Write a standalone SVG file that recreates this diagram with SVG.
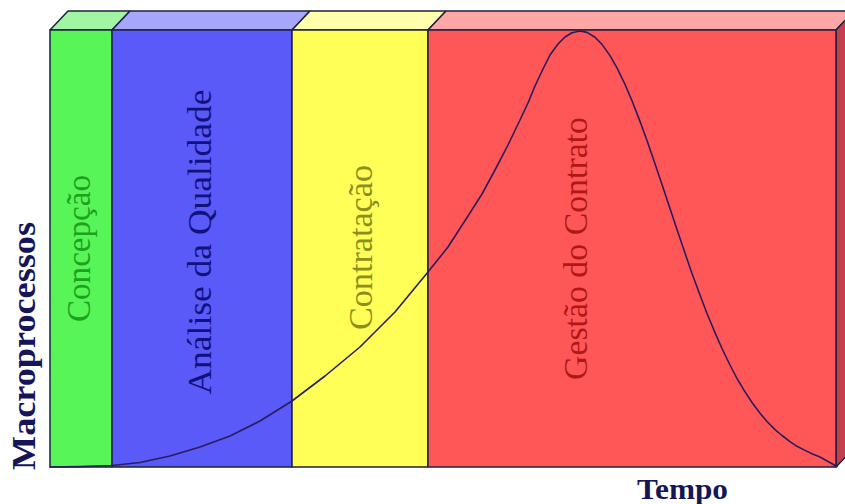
<svg xmlns="http://www.w3.org/2000/svg" width="845" height="504" viewBox="0 0 845 504">
<style>
.edge{stroke:#1c2240;stroke-width:1.5;stroke-linejoin:round}
.lbl{font-size:33px;text-anchor:middle}
.ax{font-weight:bold;fill:#15155a}
.curve{fill:none;stroke:#2a1c5e;stroke-width:1.6;stroke-linejoin:round;stroke-linecap:round}
</style>
<rect width="845" height="504" fill="#ffffff"/>
<g id="concepcao">
<polygon class="edge" points="50,30 68,11 130,11 112,30" fill="#a2f5a2"/>
<rect class="edge" x="50" y="30" width="62" height="437" fill="#57f557"/>
<text class="lbl" font-family="'Liberation Serif', 'DejaVu Serif', serif" fill="#1fa01f" transform="translate(90,248.5) rotate(-90)" textLength="147" lengthAdjust="spacingAndGlyphs">Concepção</text>
</g>
<g id="analise">
<polygon class="edge" points="112,30 130,11 310,11 292,30" fill="#a6a6fa"/>
<rect class="edge" x="112" y="30" width="180" height="437" fill="#5a5af8"/>
<text class="lbl" font-family="'Liberation Serif', 'DejaVu Serif', serif" fill="#12127e" transform="translate(211,242) rotate(-90)" textLength="305" lengthAdjust="spacingAndGlyphs">Análise da Qualidade</text>
</g>
<g id="contratacao">
<polygon class="edge" points="292,30 310,11 446,11 428,30" fill="#ffffac"/>
<rect class="edge" x="292" y="30" width="136" height="437" fill="#ffff57"/>
<text class="lbl" font-family="'Liberation Serif', 'DejaVu Serif', serif" fill="#8e8e1c" transform="translate(372,247.5) rotate(-90)" textLength="165" lengthAdjust="spacingAndGlyphs">Contratação</text>
</g>
<g id="gestao">
<polygon class="edge" points="428,30 446,11 854,11 836,30" fill="#ffa6a6"/>
<polygon class="edge" points="836,30 854,11 854,448 836,467" fill="#c4404e"/>
<rect class="edge" x="428" y="30" width="408" height="437" fill="#ff5757"/>
<text class="lbl" font-family="'Liberation Serif', 'DejaVu Serif', serif" fill="#b01818" transform="translate(587,248.5) rotate(-90)" textLength="263" lengthAdjust="spacingAndGlyphs">Gestão do Contrato</text>
</g>
<g id="connectors">
<polyline class="curve" points="50,467 80,466.6 112,465.5 140,462.5 170,456 200,447 230,436 260,421 292,401 325,376 360,347 395,312 428,272 448,247 468,216 482,194 495,170 508,145 520,120 528,103 535,86 543,69 550,55 558,44 565,37 572,32.8 580,31 587,32.4 595,37.3 602,44.4 610,55.6 617,67.9 625,84.4 632,100.8 640,121.4 647,140.5 655,163.8 662,184.5 670,208.6 677,229.6 685,253.1 692,273.5 700,295 707,313.5 715,332.6 722,348.5 730,365 737,378.5 745,391.8 752,402.5 760,413.2 767,421.5 775,429.6 782,435.5 790,441.7 797,446.3 805,450.4 812,453.8 820,457 828,461.5 837,466.5"/>
</g>
<g id="axes">
<text class="ax" font-family="'Liberation Serif', 'DejaVu Serif', serif" font-size="34" transform="translate(35,346) rotate(-90)" text-anchor="middle" textLength="248" lengthAdjust="spacingAndGlyphs">Macroprocessos</text>
<text class="ax" font-family="'Liberation Serif', 'DejaVu Serif', serif" font-size="29" x="637" y="499" textLength="91" lengthAdjust="spacingAndGlyphs">Tempo</text>
</g>
</svg>
